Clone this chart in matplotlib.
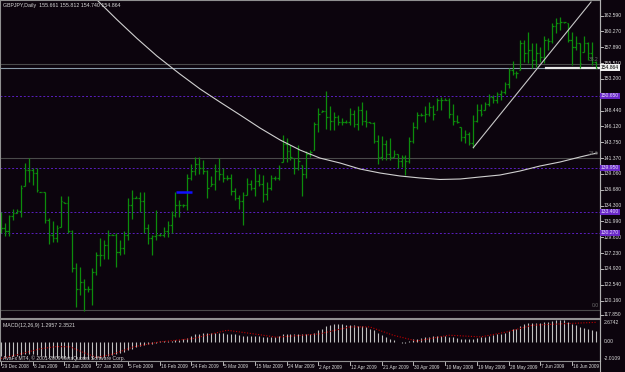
import numpy as np
import matplotlib
matplotlib.use('Agg')
import matplotlib.pyplot as plt

# ── Data (GBPJPY daily, 29 Dec 2008 .. 22 Jun 2009) ──────────────────────────
highs = [133.4, 131.7, 133.0, 133.8, 133.9, 137.4, 140.7, 141.4, 139.9, 139.9, 136.4,
         136.3, 132.5, 132.0, 131.5, 135.7, 134.9, 135.7, 130.7, 125.8, 125.2,
         123.5, 122.4, 125.0, 127.5, 129.5, 129.2, 130.7, 130.1, 130.2, 129.2,
         130.5, 135.4, 136.7, 135.7, 136.3, 136.3, 131.6, 130.0, 133.7, 130.2,
         131.2, 132.1, 133.6, 136.4, 135.2, 134.6, 139.1, 140.5, 141.6, 141.5,
         141.1, 139.6, 138.7, 140.6, 141.4, 139.9, 138.9, 139.1, 136.9, 135.9,
         136.4, 138.4, 138.2, 139.9, 139.1, 138.9, 137.9, 138.9, 138.7, 140.4,
         144.9, 144.4, 143.4, 141.4, 143.4, 140.4, 142.4, 142.6, 146.8, 148.8,
         148.6, 151.4, 149.1, 148.3, 147.8, 147.3, 147.1, 148.8, 148.6, 149.1,
         149.7, 148.6, 146.8, 146.8, 144.9, 144.7, 144.1, 144.4, 142.6, 142.0,
         141.9, 141.9, 144.6, 146.8, 148.3, 148.1, 149.1, 149.8, 149.3, 150.3,
         150.5, 150.3, 150.3, 149.5, 147.8, 146.1, 145.6, 145.3, 147.8, 149.5,
         149.5, 149.8, 151.0, 150.8, 151.3, 151.5, 152.8, 154.8, 155.8, 154.3,
         159.0, 159.0, 160.2, 158.5, 158.5, 158.0, 159.5, 159.2, 161.5, 162.2,
         162.4, 161.7, 161.5, 160.2, 159.5, 158.5, 159.5, 158.7, 158.7, 155.812]
lows = [130.3, 129.8, 129.8, 132.2, 133.2, 132.7, 137.2, 137.8, 137.4, 136.4, 136.3,
        131.7, 128.6, 129.0, 129.0, 131.2, 134.7, 130.2, 124.5, 119.2, 121.1,
        118.6, 121.5, 119.6, 124.0, 125.4, 126.4, 126.4, 130.0, 125.2, 127.0,
        127.2, 129.3, 132.3, 135.4, 133.4, 130.2, 128.7, 127.0, 129.2, 129.8,
        129.6, 129.6, 130.2, 132.7, 132.7, 134.2, 133.7, 138.2, 138.9, 139.0,
        139.1, 135.4, 137.2, 136.7, 138.2, 137.9, 138.2, 135.9, 135.2, 133.9,
        131.4, 135.9, 136.7, 135.7, 137.2, 134.9, 135.2, 136.7, 138.2, 138.2,
        140.9, 140.9, 141.1, 139.1, 139.6, 135.7, 138.4, 141.6, 142.6, 145.3,
        148.3, 145.8, 145.6, 145.6, 146.3, 146.3, 146.6, 146.3, 146.1, 145.6,
        146.3, 146.1, 146.6, 143.6, 140.6, 141.1, 141.1, 141.1, 141.6, 140.0,
        140.1, 138.9, 140.7, 143.6, 145.8, 147.6, 146.8, 147.6, 147.1, 148.6,
        148.6, 150.0, 147.3, 146.3, 146.6, 143.9, 143.6, 143.4, 142.9, 146.8,
        147.6, 148.6, 149.1, 149.6, 149.6, 150.0, 151.0, 151.8, 153.8, 153.3,
        154.5, 155.7, 155.5, 154.8, 155.0, 155.7, 155.5, 157.5, 158.5, 160.0,
        160.5, 161.5, 158.7, 155.3, 157.5, 154.8, 157.2, 156.0, 155.3, 154.740]
closes = [131.0, 130.5, 132.8, 133.3, 133.5, 137.0, 139.6, 139.6, 139.2, 136.6, 136.3,
          132.2, 130.0, 129.5, 131.0, 135.0, 134.8, 130.5, 125.0, 122.0, 123.0,
          122.0, 122.0, 124.5, 127.0, 127.0, 128.5, 130.0, 130.0, 127.5, 128.0,
          130.0, 134.5, 135.5, 135.5, 135.0, 131.0, 129.5, 129.8, 130.0, 130.0,
          130.5, 131.5, 133.0, 134.5, 134.5, 134.4, 138.5, 139.5, 140.5, 140.0,
          139.5, 137.0, 137.5, 139.5, 139.0, 138.5, 138.5, 136.5, 135.5, 135.0,
          135.9, 137.5, 137.0, 138.0, 137.5, 136.0, 137.0, 138.5, 138.4, 140.0,
          143.5, 142.5, 141.5, 140.0, 141.0, 139.0, 142.0, 142.3, 146.5, 148.0,
          148.4, 147.5, 147.0, 147.5, 146.8, 146.8, 146.8, 148.0, 146.5, 148.5,
          147.0, 146.8, 146.7, 144.0, 141.5, 143.5, 142.0, 141.5, 142.0, 141.0,
          141.5, 141.0, 144.0, 146.0, 147.8, 147.8, 148.0, 149.0, 148.0, 150.0,
          150.0, 150.1, 148.0, 147.0, 146.8, 144.5, 145.0, 143.6, 147.0, 148.5,
          148.0, 149.5, 150.5, 150.0, 151.0, 151.2, 152.5, 154.5, 154.0, 154.0,
          158.5, 157.0, 157.5, 156.0, 157.0, 156.5, 159.0, 158.8, 161.0, 161.5,
          161.6, 161.6, 159.0, 158.0, 158.5, 155.5, 158.5, 157.0, 155.7, 154.864]
first_open = 132.8
last_open = 155.661

# long moving average (white curve), sampled at bar positions
ma_pos = [18.2, 23.2, 28.2, 33.3, 38.3, 44.1, 49.2, 54.2, 59.3, 64.3, 69.4, 74.4,
          79.4, 84.5, 89.5, 94.6, 99.6, 104.7, 109.7, 114.8, 119.8, 124.8, 129.9,
          134.9, 140.0, 145.0, 149.3]
ma_val = [167.90, 164.93, 162.02, 159.20, 156.60, 153.92, 151.69, 149.75, 147.82,
          145.89, 144.10, 142.61, 141.42, 140.68, 139.79, 139.19, 138.75, 138.45,
          138.23, 138.30, 138.60, 138.89, 139.49, 140.23, 140.83, 141.57, 142.17]

# MACD(12,26,9): main line (histogram) per bar, signal line sampled
macd_main = [-1.7, -1.8, -1.8, -1.7, -1.7, -1.6, -1.5, -1.5, -1.5, -1.6, -1.7,
             -1.8, -1.9, -1.9, -1.9, -1.9, -1.9, -1.9, -2.0, -2.0, -2.0,
             -2.0, -2.0, -2.0, -1.9, -1.9, -1.8, -1.7, -1.6, -1.5, -1.3,
             -1.2, -1.0, -0.8, -0.6, -0.5, -0.4, -0.3, -0.2, -0.1, 0.05,
             0.1, 0.1, 0.15, 0.2, 0.25, 0.3, 0.5, 0.7, 0.9, 1.0,
             1.1, 1.1, 1.1, 1.1, 1.1, 1.1, 1.0, 1.0, 0.9, 0.8,
             0.7, 0.7, 0.7, 0.7, 0.7, 0.6, 0.6, 0.6, 0.6, 0.7,
             0.9, 1.0, 1.0, 1.0, 1.0, 0.9, 0.9, 0.9, 1.1, 1.4,
             1.6, 1.9, 2.0, 2.1, 2.1, 2.1, 2.0, 2.0, 2.0, 1.9,
             1.9, 1.8, 1.6, 1.4, 1.1, 0.8, 0.6, 0.4, 0.2, 0.0,
             -0.1, -0.1, 0.1, 0.3, 0.4, 0.5, 0.6, 0.6, 0.7, 0.7,
             0.7, 0.7, 0.6, 0.6, 0.5, 0.4, 0.3, 0.3, 0.4, 0.5,
             0.6, 0.6, 0.7, 0.8, 0.9, 1.0, 1.1, 1.3, 1.5, 1.6,
             1.9, 2.1, 2.3, 2.3, 2.3, 2.3, 2.4, 2.4, 2.5, 2.6,
             2.67, 2.6, 2.4, 2.2, 2.0, 1.8, 1.7, 1.5, 1.4, 1.2957]
sig_pos = [-1, 3.8, 8.8, 13, 16.4, 19.7, 23.1, 27.3, 32.4, 39, 47.5, 56, 62.6,
           68.5, 74.4, 79.4, 87, 92, 97.9, 103.8, 112, 120, 126.6, 133, 141.7, 149]
sig_val = [-2.0, -1.46, -0.84, -0.56, -0.6, -1.26, -1.87, -1.46, -0.6, 0.0, 0.4,
           1.4, 0.97, 0.56, 0.77, 0.97, 1.8, 1.8, 0.8, 0.1, 0.8, 0.6, 1.2, 2.0,
           2.2, 2.35]

price_ticks = [162.590, 160.270, 157.890, 155.510, 153.200, 148.440, 146.120,
               143.750, 141.370, 139.060, 136.680, 134.300, 131.990, 129.610,
               127.230, 124.920, 122.540, 120.160, 117.850]
hlines_purple = [150.650, 139.950, 133.400, 130.270]
fib_levels = [0.0, 23.6, 38.2]
fib_prices = [118.82, 141.42, 155.40]
date_labels = ['29 Dec 2008', '8 Jan 2009', '18 Jan 2009', '27 Jan 2009', '5 Feb 2009',
               '16 Feb 2009', '24 Feb 2009', '5 Mar 2009', '15 Mar 2009', '24 Mar 2009',
               '2 Apr 2009', '12 Apr 2009', '21 Apr 2009', '30 Apr 2009', '10 May 2009',
               '19 May 2009', '28 May 2009', '7 Jun 2009', '16 Jun 2009']
trend_start = (118.1, 142.96)
trend_end = (147.8, 164.63)

# ── Layout (pixel based, MT4 look) ───────────────────────────────────────────
W, H = 625, 372
BG = '#0c040d'
FG = '#d8d8d8'
GREEN = '#0c8c0c'
FONT = 'Liberation Sans'

P_TOP, P_BOT = 164.925, 117.625          # price at pixel rows 0 and 318
X0, DX = 5.0, 3.965                      # pixel of bar 0, px per bar
xl = (-X0 / DX, (600 - X0) / DX)

fig = plt.figure(figsize=(W / 100, H / 100), dpi=100, facecolor=BG)
ax = fig.add_axes([0, 1 - 318 / H, 600 / W, 318 / H], facecolor=BG)
axm = fig.add_axes([0, 1 - 361 / H, 600 / W, 42 / H], facecolor=BG)
for a in (ax, axm):
    a.set_xlim(*xl)
    a.set_xticks([])
    a.set_yticks([])
    for s in a.spines.values():
        s.set_color('#909090')
        s.set_linewidth(0.8)
ax.set_ylim(P_BOT, P_TOP)
axm.set_ylim(-2.3, 2.75)

n = len(closes)
xs = np.arange(n) - 1
opens = np.array([first_open] + closes[:-2] + [last_open])
hi = np.array(highs); lo = np.array(lows); cl = np.array(closes)
opens = np.clip(opens, lo, hi)

# horizontal levels
for p in hlines_purple:
    ax.axhline(p, color='#5a1ec0', lw=0.7, ls=(0, (2, 2)))
for p in fib_prices:
    ax.axhline(p, color='#4a4a4a', lw=0.8)
ax.axhline(closes[-1], color='#8a9aa8', lw=0.8)
ax.plot([136.5, xl[1]], [closes[-1], closes[-1]], color='#e8e8e8', lw=1.6)
for lv, p in zip(fib_levels, fib_prices):
    ax.text(xl[1] - 0.3, p + 0.3, f'{lv:.1f}', color='#707070', fontsize=3.6,
            family=FONT, ha='right', va='bottom')

# OHLC bars
ax.vlines(xs, lo, hi, color=GREEN, lw=0.9)
ax.hlines(opens, xs - 0.38, xs, color=GREEN, lw=0.9)
ax.hlines(cl, xs, xs + 0.38, color=GREEN, lw=0.9)

# moving average and trend line
ax.plot(ma_pos, ma_val, color='#d0d0d0', lw=0.8)
ax.plot([trend_start[0], trend_end[0]], [trend_start[1], trend_end[1]],
        color='#c8c8c8', lw=0.8)
ax.plot([43.1, 47.2], [136.3, 136.3], color='#1010ff', lw=1.8, solid_capstyle='butt')

# MACD window
axm.vlines(xs, 0, macd_main, color='#c0c0c0', lw=0.8)
axm.plot(sig_pos, sig_val, color='#c00000', lw=0.8, ls=(0, (1, 1.5)))

# texts
def ptext(x, y, s, **kw):
    fig.text(x / W, 1 - y / H, s, family=FONT, **kw)

ptext(3, 5, 'GBPJPY,Daily  155.661 155.812 154.740 154.864', color=FG, fontsize=3.8,
      va='center')
ptext(3, 325, 'MACD(12,26,9) 1.2957 2.3521', color=FG, fontsize=3.8, va='center')
ptext(3, 358, 'AvaFx MT4, \u00a9 2001-2009 MetaQuotes Software Corp.', color=FG,
      fontsize=3.6, va='center')

def py(p):
    return (P_TOP - p) / (P_TOP - P_BOT) * 318

for p in price_ticks:
    y = min(py(p), 315)
    fig.add_artist(plt.Line2D([600 / W, 603 / W], [1 - y / H] * 2, color=FG, lw=0.6))
    ptext(604, y, f'{p:.3f}', color=FG, fontsize=3.6, va='center')
for p in hlines_purple:
    ptext(601, py(p), f'{p:.3f}', color='#e8e0ff', fontsize=3.6, va='center',
          bbox=dict(boxstyle='square,pad=0.15', fc='#6a28c8', ec='none'))
ptext(601, py(closes[-1]), f'{closes[-1]:.3f}', color='#000000', fontsize=3.6,
      va='center', bbox=dict(boxstyle='square,pad=0.15', fc='#f0f0f0', ec='none'))

def my(v):
    return 319 + (2.75 - v) / 5.05 * 42

for v, s in [(2.6742, '2.6742'), (0.0, '0.00'), (-2.0109, '-2.0109')]:
    ptext(604, max(my(v), 322.5), s, color=FG, fontsize=3.6, va='center')

# right axis line and bottom date axis
fig.add_artist(plt.Line2D([600 / W, 600 / W], [0, 1], color='#b0b0b0', lw=0.8))
for j, s in enumerate(date_labels):
    k = 8 * j - 1
    x = X0 + DX * k
    fig.add_artist(plt.Line2D([x / W, x / W], [1 - 362 / H, 1 - 365 / H],
                              color=FG, lw=0.6))
    ptext(x + 1, 367, s, color=FG, fontsize=3.4, va='center')

fig.savefig('out.png', dpi=100, facecolor=BG)
